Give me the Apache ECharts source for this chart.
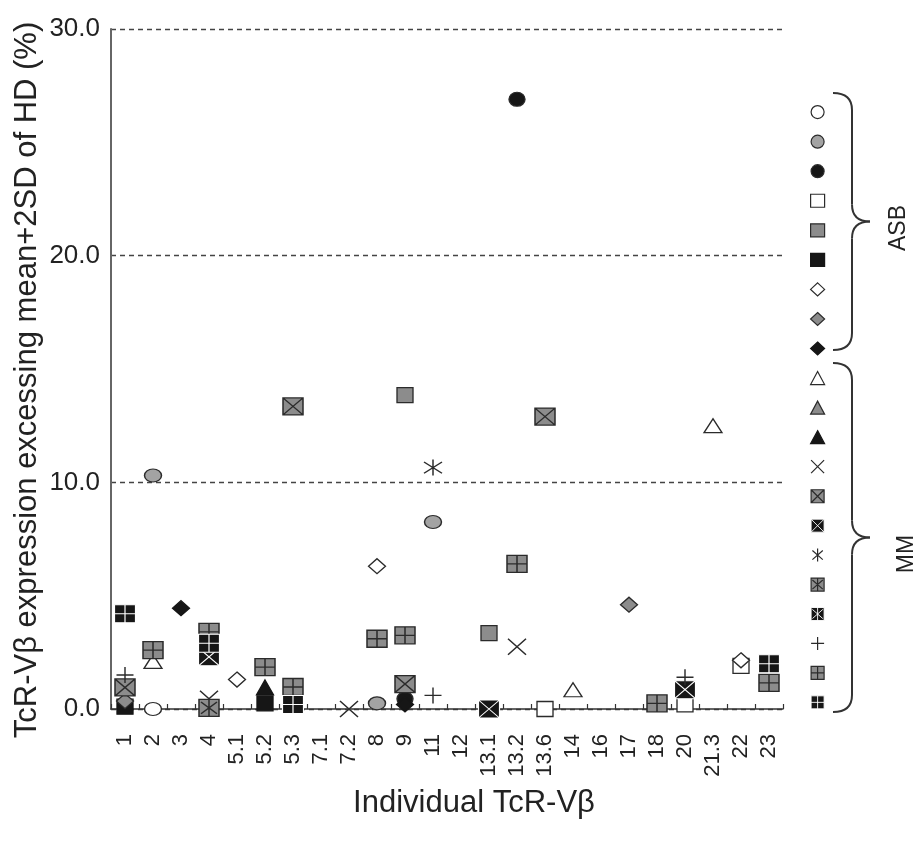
<!DOCTYPE html>
<html>
<head>
<meta charset="utf-8">
<script src="https://cdn.jsdelivr.net/npm/echarts@6/dist/echarts.min.js"></script>
<style>
  html, body { margin: 0; padding: 0; background: #fff; }
  #chart { width: 924px; height: 849px; }
</style>
</head>
<body>
<div id="chart"></div>
<script>
var categories = ['1', '2', '3', '4', '5.1', '5.2', '5.3', '7.1', '7.2', '8', '9', '11', '12',
                  '13.1', '13.2', '13.6', '14', '16', '17', '18', '20', '21.3', '22', '23'];
var yTicks = [0, 10, 20, 30];

// ASB patients
var openCircle   = [['2', 0.0]];
var grayCircle   = [['2', 10.3], ['11', 8.25], ['8', 0.25]];
var blackCircle  = [['13.2', 26.9], ['9', 0.45]];
var openSquare   = [['13.6', 0.0], ['22', 1.9], ['20', 0.2]];
var graySquare   = [['9', 13.85], ['13.1', 3.35]];
var blackSquare  = [['1', 0.1], ['5.2', 0.25]];
var openDiamond  = [['5.1', 1.3], ['8', 6.3], ['22', 2.15]];
var grayDiamond  = [['17', 4.6], ['1', 0.35]];
var blackDiamond = [['3', 4.45], ['9', 0.2]];

// MM patients
var openTriangle  = [['2', 2.1], ['14', 0.85], ['21.3', 12.5]];
var grayTriangle  = [];
var blackTriangle = [['5.2', 0.95]];
var crossMark     = [['13.2', 2.75], ['7.2', 0.0], ['4', 0.45]];
var grayBoxCross  = [['5.3', 13.35], ['13.6', 12.9], ['1', 0.95], ['9', 1.1]];
var blackBoxCross = [['4', 2.3], ['13.1', 0.0], ['20', 0.85]];
var starMark      = [['11', 10.65]];
var grayBoxStar   = [['4', 0.05]];
var blackBoxStar  = [];
var plusMark      = [['1', 1.5], ['11', 0.6], ['20', 1.4]];
var grayBoxPlus   = [['2', 2.6], ['4', 3.4], ['5.2', 1.85], ['5.3', 0.97], ['8', 3.1], ['9', 3.25],
                     ['13.2', 6.4], ['18', 0.25], ['23', 1.15]];
var blackBoxPlus  = [['1', 4.2], ['4', 2.9], ['5.3', 0.2], ['23', 2.0]];

var FONT = '"Liberation Sans", Arial, Helvetica, sans-serif';
var DARK = '#2b2b2b', GRAY = '#8c8c8c', BLACK = '#161616';

var P_CROSS = 'path://M0,0L20,20M20,0L0,20';
var P_STAR = 'path://M2,3L18,17M18,3L2,17M10,0L10,20';
var P_PLUS = 'path://M10,0L10,20M0,10L20,10';
var P_BOX_CROSS = 'path://M0,0L20,0L20,20L0,20ZM0,0L20,20M20,0L0,20';
var P_BOX_STAR = 'path://M0,0L20,0L20,20L0,20ZM2,3L18,17M18,3L2,17M10,0L10,20';
var P_BOX_PLUS = 'path://M0,0L20,0L20,20L0,20ZM10,0L10,20M0,10L20,10';

function mk(name, data, symbol, size, fill, stroke, bw) {
    return {
        name: name,
        type: 'scatter',
        data: data,
        symbol: symbol,
        symbolSize: size,
        itemStyle: { color: fill, borderColor: stroke, borderWidth: bw === undefined ? 1.3 : bw, opacity: 1 },
        emphasis: { disabled: true }
    };
}

var series = [
    mk('ASB 1', openCircle, 'circle', [17, 13], '#fff', DARK),
    mk('ASB 2', grayCircle, 'circle', [17, 13], '#a3a3a3', DARK),
    mk('ASB 3', blackCircle, 'circle', [16, 14], BLACK, DARK),
    mk('ASB 4', openSquare, 'rect', [16, 15], '#fff', DARK),
    mk('ASB 5', graySquare, 'rect', [16, 15], GRAY, DARK),
    mk('ASB 6', blackSquare, 'rect', [16, 15], BLACK, BLACK),
    mk('ASB 7', openDiamond, 'diamond', [17, 15], '#fff', DARK),
    mk('ASB 8', grayDiamond, 'diamond', [17, 15], GRAY, DARK),
    mk('ASB 9', blackDiamond, 'diamond', [17, 15], BLACK, BLACK),
    mk('MM 1', openTriangle, 'triangle', [18, 14], '#fff', DARK),
    mk('MM 2', grayTriangle, 'triangle', [18, 14], GRAY, DARK),
    mk('MM 3', blackTriangle, 'triangle', [17, 15], BLACK, BLACK),
    mk('MM 4', crossMark, P_CROSS, [18, 16], '#fff', DARK, 1.4),
    mk('MM 5', grayBoxCross, P_BOX_CROSS, [20, 17], GRAY, DARK, 1.4),
    mk('MM 6', blackBoxCross, P_BOX_CROSS, [21, 18], BLACK, '#fff', 1.1),
    mk('MM 7', starMark, P_STAR, [18, 16], '#fff', DARK, 1.4),
    mk('MM 8', grayBoxStar, P_BOX_STAR, [20, 17], GRAY, DARK, 1.4),
    mk('MM 9', blackBoxStar, P_BOX_STAR, [21, 18], BLACK, '#fff', 1.1),
    mk('MM 10', plusMark, P_PLUS, [17, 16], '#fff', DARK, 1.4),
    mk('MM 11', grayBoxPlus, P_BOX_PLUS, [20, 17], GRAY, DARK, 1.4),
    mk('MM 12', blackBoxPlus, P_BOX_PLUS, [21, 18], BLACK, '#fff', 1.1)
];

// legend entries: explicit icon and thin stroke so the small boxes keep their look
var legendData = series.map(function (s) {
    return {
        name: s.name,
        icon: s.symbol,
        itemStyle: {
            color: s.itemStyle.color,
            borderColor: s.itemStyle.borderColor,
            borderWidth: s.itemStyle.borderColor === '#fff' ? 0.9 : 1.2
        }
    };
});

// curly brace "}" built from quadratic curves and straight lines
function brace(x0, y0, y1) {
    var ym = (y0 + y1) / 2, xl = x0 + 19, xt = x0 + 37, r = 17;
    var st = { fill: null, stroke: '#333', lineWidth: 2 };
    function q(a, b, c, d, e, f) {
        return { type: 'bezierCurve', shape: { x1: a, y1: b, cpx1: c, cpy1: d, x2: e, y2: f }, style: st, silent: true };
    }
    function ln(a, b, c, d) {
        return { type: 'line', shape: { x1: a, y1: b, x2: c, y2: d }, style: st, silent: true };
    }
    return [
        q(x0, y0, xl, y0, xl, y0 + r),
        ln(xl, y0 + r, xl, ym - r),
        q(xl, ym - r, xl, ym, xt, ym),
        q(xt, ym, xl, ym, xl, ym + r),
        ln(xl, ym + r, xl, y1 - r),
        q(xl, y1 - r, xl, y1, x0, y1)
    ];
}

var graphics = brace(833, 93, 350).concat(brace(833, 363, 712)).concat([
    { type: 'text', x: 899, y: 228, rotation: Math.PI / 2,
      style: { text: 'ASB', font: '23px ' + FONT, fill: '#222', align: 'center', verticalAlign: 'middle' } },
    { type: 'text', x: 907, y: 554, rotation: Math.PI / 2,
      style: { text: 'MM', font: '23px ' + FONT, fill: '#222', align: 'center', verticalAlign: 'middle' } },
    // axis titles
    { type: 'text', x: 474, y: 803,
      style: { text: 'Individual TcR-V\u03b2', font: '31px ' + FONT, fill: '#222', align: 'center', verticalAlign: 'middle' } },
    { type: 'text', x: 27, y: 380, rotation: Math.PI / 2,
      style: { text: 'TcR-V\u03b2 expression excessing mean+2SD of HD (%)', font: '31px ' + FONT, fill: '#222',
               align: 'center', verticalAlign: 'middle' } }
]);

var chart = echarts.init(document.getElementById('chart'));
chart.setOption({
    backgroundColor: '#fff',
    animation: false,
    textStyle: { fontFamily: FONT },
    grid: { left: 111, right: 141, top: 29, bottom: 140, containLabel: false },
    legend: {
        orient: 'vertical',
        left: 810,
        top: 105,
        padding: 0,
        itemWidth: 14,
        itemHeight: 13,
        itemGap: 15.35,
        selectedMode: false,
        formatter: function () { return ''; },
        textStyle: { fontSize: 8 },
        data: legendData
    },
    xAxis: {
        type: 'category',
        data: categories,
        boundaryGap: true,
        axisLine: { lineStyle: { color: '#333', width: 1.5 } },
        axisTick: { show: true, inside: true, length: 5, lineStyle: { color: '#333', width: 1.2 } },
        axisLabel: { rotate: 90, interval: 0, margin: 25, fontSize: 22, color: '#222', fontFamily: FONT },
        splitLine: { show: false }
    },
    yAxis: {
        type: 'value',
        min: yTicks[0],
        max: yTicks[yTicks.length - 1],
        interval: 10,
        axisLine: { show: true, lineStyle: { color: '#666', width: 2 } },
        axisTick: { show: false },
        axisLabel: {
            fontSize: 26, color: '#222', margin: 11, fontFamily: FONT,
            formatter: function (v) { return v.toFixed(1); }
        },
        splitLine: { show: true, lineStyle: { color: '#444', width: 1.3, type: [5, 4] } }
    },
    graphic: graphics,
    series: series
});
</script>
</body>
</html>
